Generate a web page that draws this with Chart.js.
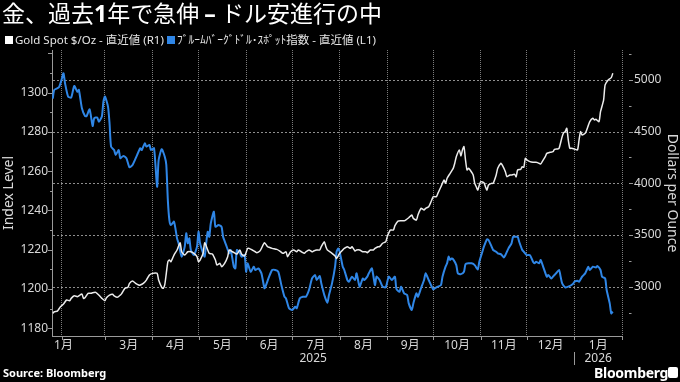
<!DOCTYPE html>
<html><head><meta charset="utf-8">
<script src="https://cdn.jsdelivr.net/npm/chart.js@4.4.1/dist/chart.umd.min.js"></script>
<style>
html,body{margin:0;padding:0;background:#000;}
#wrap{position:relative;width:680px;height:382px;overflow:hidden;background:#000;color:#fff;font-family:"Noto Sans","Noto Sans CJK JP",sans-serif;}
#c{position:absolute;left:0;top:0;}
#title{position:absolute;left:2px;top:0px;font-size:23px;line-height:25px;font-family:"Noto Sans CJK JP",sans-serif;white-space:nowrap;color:#fff;}
#title b{font-family:"Noto Sans","Noto Sans CJK JP",sans-serif;font-weight:700;}
.leg{position:absolute;top:32px;font-size:11.5px;line-height:16px;color:#e6e6e6;white-space:nowrap;font-family:"Noto Sans","Noto Sans CJK JP",sans-serif;}
.sq{position:absolute;top:4px;left:0;width:8px;height:8px;}
.leg span.t{position:absolute;left:10px;top:0;}
#source{position:absolute;left:3px;top:366px;font-size:11px;line-height:14px;font-weight:700;color:#fff;white-space:nowrap;}
#logo{position:absolute;left:594px;top:364px;font-size:14px;line-height:17px;font-weight:700;color:#fff;white-space:nowrap;letter-spacing:-0.3px;}
#icon{position:absolute;left:668px;top:367px;width:10px;height:11px;background:#fff;border-radius:2px;}
</style></head>
<body>
<div id="wrap">
  <canvas id="c" width="680" height="382"></canvas>
  <div id="title">金、過去<b>1</b>年で急伸 <b>–</b> ドル安進行の中</div>
  <div class="leg" style="left:5px;width:160px;"><div class="sq" style="background:#ffffff"></div><span class="t">Gold Spot $/Oz - 直近値 (R1)</span></div>
  <div class="leg" style="left:167px;width:260px;"><div class="sq" style="background:#2f86e6"></div><span class="t">ﾌﾞﾙｰﾑﾊﾞｰｸﾞﾄﾞﾙ･ｽﾎﾟｯﾄ指数 - 直近値 (L1)</span></div>
  <div id="source">Source: Bloomberg</div>
  <div id="logo">Bloomberg</div>
  <div id="icon"></div>
</div>
<script>
// Time values are days since 2025-01-01
const goldDays = [
 25,26,28,30,32,34,36,37,39,41,
 42,44,45,46,48,50,51,53,55,57,
 59,60,62,64,65,67,69,70,72,74,
 75,77,79,81,82,84,86,88,90,93,
 94,96,97,98,99,100,101,102,104,106,
 108,109,111,113,115,117,119,120,121,123,
 124,126,127,129,131,132,134,135,137,139,
 140,142,144,145,147,148,150,152,153,155,
 157,158,160,161,163,165,166,168,171,173,
 175,177,178,180,182,184,185,187,189,190,
 192,194,195,197,199,200,202,203,204,207,
 209,210,212,214,215,217,219,220,222,223,
 225,227,229,230,232,234,235,237,238,240,
 242,243,245,247,248,250,252,254,255,257,
 259,260,262,263,265,267,268,270,272,273,
 275,276,278,280,281,282,284,286,287,288,
 290,291,292,293,294,295,296,297,299,300,
 301,302,303,304,306,307,308,309,311,312,
 314,315,317,318,320,321,323,324,326,327,
 328,330,331,332,333,334,336,338,340,341,
 343,344,346,347,349,351,352,354,355,357,
 358,359,360,361,362,363,365,367,368,369,
 370,372,373,375,377,378,379,381,382,384,
 385,387,389,390
];
const goldPrices = [
 2742,2758,2764,2806,2832,2871,2864,2887,2912,2903,
 2912,2929,2887,2893,2936,2936,2942,2945,2919,2887,
 2864,2893,2919,2926,2912,2897,2919,2936,2984,2994,
 3032,3055,3032,3016,3016,3032,3064,3113,3129,3129,
 3064,2994,2984,3020,3129,3240,3258,3242,3306,3355,
 3425,3338,3306,3338,3338,3323,3290,3242,3258,3323,
 3425,3355,3323,3316,3258,3210,3226,3194,3226,3290,
 3355,3338,3323,3316,3355,3316,3297,3371,3371,3355,
 3338,3329,3345,3371,3425,3387,3381,3371,3361,3345,
 3323,3338,3290,3338,3355,3338,3355,3338,3323,3338,
 3355,3338,3345,3355,3355,3387,3435,3387,3355,3323,
 3297,3274,3323,3355,3371,3387,3371,3387,3345,3355,
 3355,3338,3338,3329,3355,3355,3371,3387,3387,3420,
 3435,3484,3548,3548,3590,3635,3638,3638,3645,3667,
 3693,3661,3645,3693,3758,3742,3758,3774,3839,3871,
 3871,3903,3967,4032,4000,4049,4097,4145,4194,4258,
 4323,4264,4323,4355,4226,4129,4145,4129,4081,4000,
 3967,3935,3984,4016,4006,3967,3935,3984,4000,4000,
 4081,4145,4194,4177,4113,4064,4081,4081,4087,4064,
 4129,4136,4161,4155,4242,4226,4210,4204,4204,4200,
 4187,4210,4258,4290,4300,4306,4329,4332,4339,4452,
 4490,4500,4533,4419,4339,4339,4332,4323,4419,4500,
 4468,4484,4516,4597,4629,4613,4620,4597,4693,4806,
 4952,5000,5023,5065
];
const indexDays = [
 25,26,29,31,32,33,35,37,39,41,
 42,44,46,47,49,51,52,54,55,57,
 58,59,61,62,63,65,66,68,69,71,
 73,75,77,80,82,83,85,86,88,89,
 91,93,94,96,98,99,100,101,102,104,
 106,107,109,111,112,113,114,115,117,119,
 120,121,123,124,125,126,127,128,130,131,
 133,135,136,138,140,141,143,144,145,147,
 148,150,151,152,154,156,157,159,161,163,
 164,166,168,170,172,174,176,177,179,181,
 183,184,186,188,190,192,194,196,197,199,
 200,202,204,205,207,209,210,211,212,214,
 215,217,218,220,222,223,225,227,228,230,
 231,233,235,236,238,240,242,244,246,248,
 249,251,252,254,256,257,259,260,262,263,
 265,267,268,270,272,273,275,276,278,279,
 281,282,283,284,285,286,288,289,291,293,
 294,296,298,300,302,303,305,306,308,309,
 311,312,314,315,317,319,320,322,324,325,
 326,328,329,331,332,334,336,338,339,340,
 342,343,345,347,348,350,351,353,355,356,
 357,359,361,364,365,367,368,370,372,373,
 374,375,377,379,380,382,383,385,386,388,
 389,390
];
const indexLevels = [
 1297,1301.4,1302.7,1307.3,1309.9,1304.8,1298,1297.5,1303.4,1300.5,
 1301.4,1292,1288.1,1288,1291.5,1283,1287,1287.3,1285.2,1287.8,
 1295.4,1298,1292.9,1284.4,1272.5,1270.8,1268.3,1270.8,1266.6,1267.8,
 1266.6,1262,1263.2,1268.3,1271.7,1270.8,1274.2,1272.5,1273.4,1270.8,
 1271.7,1252.1,1265.7,1271.2,1267.4,1263.2,1245.3,1235.1,1232.6,1234.3,
 1225.8,1223.3,1216.5,1221.6,1228.4,1223.3,1225.8,1219.9,1217.3,1221.6,
 1229.2,1223.3,1218.2,1216.5,1223.3,1229.2,1226.6,1233.5,1239.4,1231.7,
 1232.6,1231.7,1226.6,1222.4,1218.2,1219.9,1211.4,1210.5,1219.9,1218.2,
 1216.5,1217.3,1208.8,1213.1,1208.8,1211.4,1209.7,1210.5,1208,1200.4,
 1202,1206.3,1209.7,1209.7,1208.8,1202,1196.1,1195.3,1190.2,1189.3,
 1191,1190.2,1195.3,1196.1,1196.1,1199.5,1205.4,1207.1,1204.6,1206.6,
 1202.9,1196.9,1193,1196.9,1202.9,1211.4,1219,1220.7,1219,1211.4,
 1209.7,1204.6,1203.7,1206.3,1204.6,1208,1201.2,1205.4,1204.6,1206.3,
 1208,1210.5,1202,1206.3,1204.6,1201.2,1200.9,1206.3,1204.6,1206.3,
 1200,1198.6,1201.2,1197.8,1196.9,1192.7,1189.3,1192.7,1197.8,1196.1,
 1200.4,1204.6,1208,1204.6,1201.2,1199.8,1200.9,1201.2,1202,1206.3,
 1211.4,1213.1,1216.5,1214.8,1215.6,1215.1,1212.2,1208,1207.6,1208.8,
 1212.7,1213.1,1213.1,1212.2,1210,1213.9,1219,1221.6,1225.3,1225,
 1221.6,1219.9,1219,1218.2,1217.8,1216.1,1217.3,1220.7,1223.3,1226.6,
 1226.6,1226.6,1224.1,1219.9,1219,1217.3,1217.3,1213.9,1213.1,1213.9,
 1213.1,1214.8,1210.5,1206.3,1207.1,1205.4,1206.3,1208,1209.7,1206.3,
 1202.9,1200.9,1201.2,1202.6,1203.7,1204.2,1203.7,1206.3,1208,1209.7,
 1211.4,1209.7,1211.4,1211,1211.7,1209.7,1206.3,1205.4,1199.5,1192.7,
 1187.6,1188.5
];
const monthStarts = ['2025-02-01','2025-03-01','2025-04-01','2025-05-01','2025-06-01','2025-07-01',
  '2025-08-01','2025-09-01','2025-10-01','2025-11-01','2025-12-01','2026-01-01','2026-02-01'];
const labelMonths = ['2025-01','2025-03','2025-04','2025-05','2025-06','2025-07',
  '2025-08','2025-09','2025-10','2025-11','2025-12','2026-01'];
const yearLabels = ['2025','2026'];
const indexTickValues = [1180,1190,1200,1210,1220,1230,1240,1250,1260,1270,1280,1290,1300,1310,1320];
const indexLabelValues = [1180,1200,1220,1240,1260,1280,1300];
const goldTickValues = [2750,3000,3250,3500,3750,4000,4250,4500,4750,5000,5250];
const goldLabelValues = [3000,3500,4000,4500,5000];

const FONT = '"Noto Sans", "Noto Sans CJK JP", sans-serif';
const TXT = '#d8d8d8', AXIS = '#9a9a9a', GRID = '#7c7c7c', HGRID = '#8e8e8e';
const GOLD_COLOR = '#ececec', INDEX_COLOR = '#2f86e6';

function dayOf(s){ const p = s.split('-').map(Number); return (Date.UTC(p[0], p[1]-1, p[2]||1) - Date.UTC(2025,0,1)) / 864e5; }
const X_MIN = 24.5, X_MAX = dayOf('2026-02-01');
const monthLabelPos = labelMonths.map(k => {
  const p = k.split('-').map(Number);
  const s = Math.max(dayOf(k + '-01'), X_MIN);
  const e = Math.min((Date.UTC(p[0], p[1], 1) - Date.UTC(2025,0,1)) / 864e5, X_MAX);
  return Math.max((s + e) / 2, X_MIN + 7.5);
});
const monthLabelText = labelMonths.map(k => Number(k.slice(5)) + '月');
const yearPos = yearLabels.map(y => {
  const s = Math.max(dayOf(y + '-01-01'), X_MIN);
  const e = Math.min(dayOf((Number(y) + 1) + '-01-01'), X_MAX);
  return (s + e) / 2;
});

const hGrid = {
  id: 'hGrid',
  beforeDatasetsDraw(chart) {
    const {ctx, chartArea: a, scales} = chart;
    ctx.save();
    ctx.strokeStyle = HGRID; ctx.lineWidth = 1; ctx.setLineDash([2, 2]);
    goldLabelValues.forEach(v => {
      const py = Math.round(scales.y1.getPixelForValue(v)) + 0.5;
      ctx.beginPath(); ctx.moveTo(a.left + 1, py); ctx.lineTo(a.right, py); ctx.stroke();
    });
    ctx.restore();
  }
};

const tickMarks = {
  id: 'tickMarks',
  afterDraw(chart) {
    const {ctx, chartArea: a, scales} = chart;
    ctx.save();
    ctx.strokeStyle = AXIS; ctx.lineWidth = 1;
    const line = (x1, y1, x2, y2) => { ctx.beginPath(); ctx.moveTo(x1, y1); ctx.lineTo(x2, y2); ctx.stroke(); };
    indexTickValues.forEach(v => {
      const py = Math.round(scales.y.getPixelForValue(v)) + 0.5;
      const len = v % 20 === 0 ? 4 : 2;
      line(a.left - len, py, a.left, py);
    });
    goldTickValues.forEach(v => {
      const py = Math.round(scales.y1.getPixelForValue(v)) + 0.5;
      const len = goldLabelValues.includes(v) ? 4 : 2.5;
      line(a.right + 7, py, a.right + 7 + len, py);
    });
    scales.xg.ticks.forEach(t => {
      const px = Math.round(scales.xg.getPixelForValue(t.value)) + 0.5;
      line(px, a.bottom, px, a.bottom + 4);
    });
    const sx = Math.round(scales.xy.getPixelForValue(dayOf('2026-01-01'))) + 0.5;
    line(sx, a.bottom + 16, sx, a.bottom + 29);
    ctx.restore();
  }
};

new Chart(document.getElementById('c'), {
  type: 'line',
  data: {
    datasets: [
      { label: 'Gold Spot $/Oz - 直近値 (R1)', data: goldDays.map((d, i) => ({x: d, y: goldPrices[i]})),
        xAxisID: 'x', yAxisID: 'y1', borderColor: GOLD_COLOR, borderWidth: 1.5, pointRadius: 0, tension: 0.2, fill: false },
      { label: 'ﾌﾞﾙｰﾑﾊﾞｰｸﾞﾄﾞﾙ･ｽﾎﾟｯﾄ指数 - 直近値 (L1)', data: indexDays.map((d, i) => ({x: d, y: indexLevels[i]})),
        xAxisID: 'x', yAxisID: 'y', borderColor: INDEX_COLOR, borderWidth: 2, pointRadius: 0, tension: 0.2, fill: false }
    ]
  },
  options: {
    responsive: false, animation: false, devicePixelRatio: 1,
    layout: { padding: { top: 50, left: 0, right: 0, bottom: 0 } },
    plugins: { legend: { display: false }, title: { display: false }, tooltip: { enabled: false } },
    scales: {
      xg: { type: 'linear', position: 'bottom', min: X_MIN, max: X_MAX, weight: 0,
        afterBuildTicks: s => { s.ticks = monthStarts.map(d => ({value: dayOf(d)})); },
        afterFit: s => { s.height = 0; },
        ticks: { display: false },
        grid: { display: true, drawOnChartArea: true, drawTicks: false, color: GRID, lineWidth: 1 },
        border: { display: true, color: AXIS, width: 1, dash: [1, 1] } },
      x: { type: 'linear', position: 'bottom', min: X_MIN, max: X_MAX, weight: 1,
        afterBuildTicks: s => { s.ticks = monthLabelPos.map(v => ({value: v})); },
        afterFit: s => { s.height = 14; },
        ticks: { autoSkip: false, maxRotation: 0, minRotation: 0, padding: 2, color: TXT,
          font: { size: 12, family: FONT }, callback: (v, i) => monthLabelText[i] },
        grid: { display: false, drawTicks: false }, border: { display: false } },
      xy: { type: 'linear', position: 'bottom', min: X_MIN, max: X_MAX, weight: 2,
        afterBuildTicks: s => { s.ticks = yearPos.map(v => ({value: v})); },
        afterFit: s => { s.height = 32; },
        ticks: { autoSkip: false, maxRotation: 0, minRotation: 0, padding: 1, color: TXT,
          font: { size: 12, family: FONT }, callback: (v, i) => yearLabels[i] },
        grid: { display: false, drawTicks: false }, border: { display: false } },
      y: { type: 'linear', position: 'left', min: 1176.1, max: 1321.7,
        afterBuildTicks: s => { s.ticks = indexLabelValues.map(v => ({value: v})); },
        afterFit: s => { s.width = 52; },
        ticks: { autoSkip: false, padding: 4, color: TXT,
          font: { size: 12, family: FONT }, callback: v => String(v) },
        grid: { display: false, drawOnChartArea: false, drawTicks: false },
        border: { display: true, color: AXIS, width: 1 },
        title: { display: true, text: 'Index Level', color: TXT, font: { size: 14, family: FONT }, padding: { top: 1, bottom: 0 } } },
      y1: { type: 'linear', position: 'right', min: 2523, max: 5290,
        afterBuildTicks: s => { s.ticks = goldLabelValues.map(v => ({value: v})); },
        afterFit: s => { s.width = 58; },
        ticks: { autoSkip: false, padding: 12, color: TXT,
          font: { size: 12, family: FONT }, callback: v => String(v) },
        grid: { display: false, drawOnChartArea: false, drawTicks: false },
        border: { display: false },
        title: { display: true, text: 'Dollars per Ounce', color: TXT, font: { size: 14, family: FONT }, padding: { top: 0, bottom: 0 } } }
    }
  },
  plugins: [hGrid, tickMarks]
});
</script>
</body></html>
